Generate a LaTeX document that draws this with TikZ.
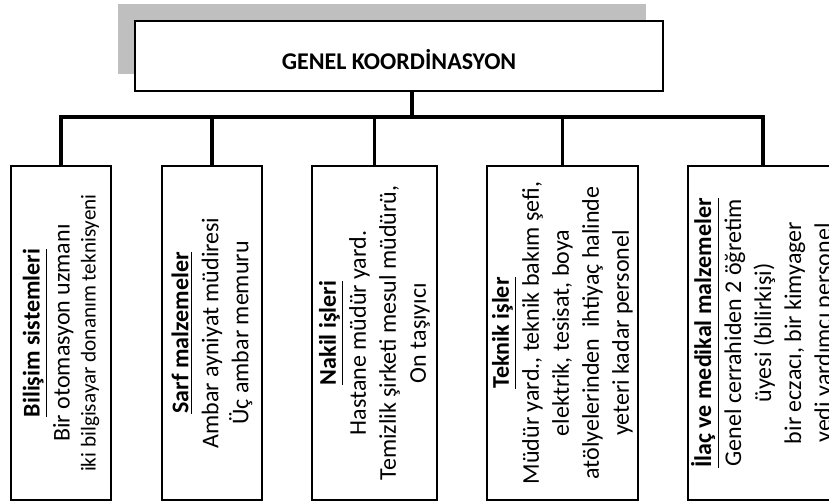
\documentclass[tikz,border=0pt]{standalone}
\usepackage{fontspec}
\setmainfont{Carlito}
\usetikzlibrary{shadows}
\definecolor{shadowgray}{RGB}{191,191,191}
\tikzset{
  unitbox/.style={draw,line width=0.8pt,rotate=90,inner sep=0pt,align=center,
    minimum width=167pt,font=\fontsize{12}{15}\selectfont},
  conn/.style={line width=1.8pt},
}
\newcommand{\head}[1]{\underline{\textbf{#1}}}
\begin{document}
\begin{tikzpicture}[x=0.5pt,y=-0.5pt]
  \useasboundingbox (0,0) rectangle (829,502);
  % Top box
  \node[draw,line width=0.8pt,fill=white,minimum width=264pt,minimum height=35pt,
    text height=14pt,text depth=0pt,font=\bfseries\fontsize{12}{15}\selectfont,
    general shadow={fill=shadowgray,shadow xshift=-8.5pt,shadow yshift=8.5pt}]
    (koord) at (399,56) {GENEL KOORDİNASYON};
  % Units
  \node[unitbox,minimum height=50pt] (bilisim) at (61,333)
    {\head{Bilişim sistemleri}\\Bir otomasyon uzmanı\\[-2pt]
     {\fontsize{10.6}{12}\selectfont iki bilgisayar donanım teknisyeni}};
  \node[unitbox,minimum height=50pt] (sarf) at (212,333)
    {\head{Sarf malzemeler}\\Ambar ayniyat müdiresi\\Üç ambar memuru};
  \node[unitbox,minimum height=62.5pt] (nakil) at (374.5,333)
    {\head{Nakil işleri}\\Hastane müdür yard.\\Temizlik şirketi mesul müdürü,\\On taşıyıcı};
  \node[unitbox,minimum height=75.5pt] (teknik) at (562.5,333)
    {\head{Teknik işler}\\Müdür yard., teknik bakım şefi,\\elektrik, tesisat, boya\\
     atölyelerinden\ \ ihtiyaç halinde\\yeteri kadar personel};
  \node[unitbox,minimum height=75pt] (ilac) at (763,333)
    {\head{İlaç ve medikal malzemeler}\\Genel cerrahiden 2 öğretim\\üyesi (bilirkişi)\\
     bir eczacı, bir kimyager\\yedi yardımcı personel};
  % Connectors
  \coordinate (bus) at (412,117);
  \draw[conn] (koord.south -| bus) -- (bus);
  \draw[conn] (bilisim.east) -- (bilisim.east |- bus) -- (ilac.east |- bus) -- (ilac.east);
  \foreach \n in {sarf,nakil,teknik}
    \draw[conn] (\n.east |- bus) -- (\n.east);
\end{tikzpicture}
\end{document}
